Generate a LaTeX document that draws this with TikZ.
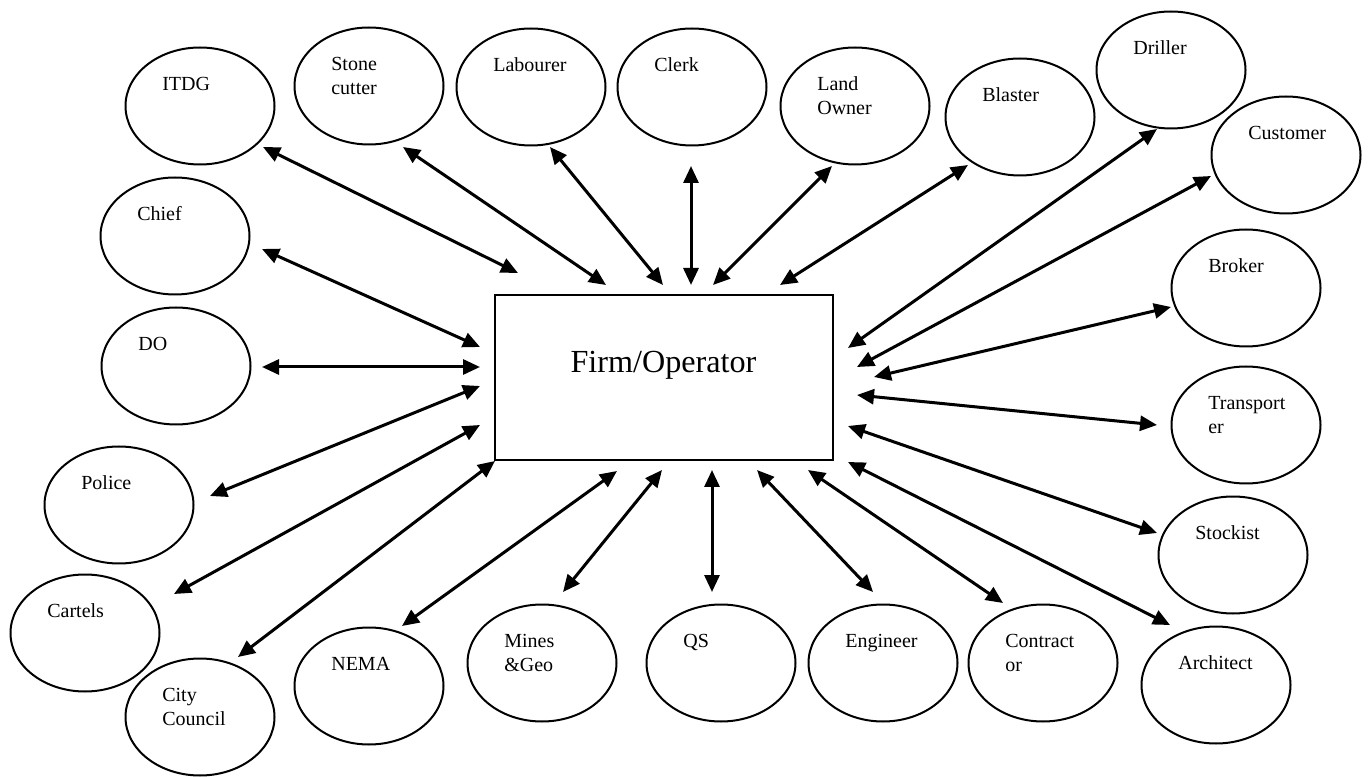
\documentclass[tikz,border=0pt]{standalone}
\usepackage{fontspec}
\setmainfont{Liberation Serif}
\usetikzlibrary{arrows.meta, shapes.geometric}
\tikzset{
	x=0.6pt, y=-0.6pt, % una unidad es un pixel del boceto
	actor/.style={ellipse, draw, line width=1.2pt, minimum width=89.4pt, minimum height=70.2pt, inner sep=0pt}, % Actores
	tag/.style={anchor=north west, align=left, inner sep=0pt, font=\fontsize{12}{14.4}\selectfont, xshift=-22.8pt, yshift=19.68pt}, % Texto dentro de cada actor
	firmbox/.style={rectangle, draw, line width=1pt, minimum width=202.8pt, minimum height=99pt, inner sep=0pt},
	link/.style={line width=1.8pt, {Triangle[length=10.2pt,width=9pt]}-{Triangle[length=10.2pt,width=9pt]}}
}

\begin{document}
\begin{tikzpicture}
	\useasboundingbox (0,0) rectangle (1370,777);
	\node[firmbox] (firm) at (664,377.5) {};
	\node[anchor=base, inner sep=0pt, font=\fontsize{19.3}{23}\selectfont] (firm-t) at (663.5,373) {Firm/Operator};

	\node[actor] (itdg) at (200,106) {};
	\node[actor] (stone) at (369,86) {};
	\node[actor] (labourer) at (531,87) {};
	\node[actor] (clerk) at (692,87) {};
	\node[actor] (land) at (855,106) {};
	\node[actor] (blaster) at (1020,117) {};
	\node[actor] (driller) at (1171,70) {};
	\node[actor] (customer) at (1286,155) {};
	\node[actor] (broker) at (1246,288) {};
	\node[actor] (transporter) at (1246,425) {};
	\node[actor] (stockist) at (1233,555) {};
	\node[actor] (architect) at (1216,685) {};
	\node[actor] (contractor) at (1043,663) {};
	\node[actor] (engineer) at (883,663) {};
	\node[actor] (qs) at (721,663) {};
	\node[actor] (mines) at (542,663) {};
	\node[actor] (nema) at (369,686) {};
	\node[actor] (city) at (200,717) {};
	\node[actor] (cartels) at (85,633) {};
	\node[actor] (police) at (119,505) {};
	\node[actor] (do) at (176,366) {};
	\node[actor] (chief) at (175,236) {};

	\node[tag] (itdg-t) at (itdg) {\strut ITDG};
	\node[tag] (stone-t) at (stone) {\strut Stone\\cutter};
	\node[tag] (labourer-t) at (labourer) {\strut Labourer};
	\node[tag] (clerk-t) at (clerk) {\strut Clerk};
	\node[tag] (land-t) at (land) {\strut Land\\Owner};
	\node[tag] (blaster-t) at (blaster) {\strut Blaster};
	\node[tag] (driller-t) at (driller) {\strut Driller};
	\node[tag] (customer-t) at (customer) {\strut Customer};
	\node[tag] (broker-t) at (broker) {\strut Broker};
	\node[tag] (transporter-t) at (transporter) {\strut Transport\\er};
	\node[tag] (stockist-t) at (stockist) {\strut Stockist};
	\node[tag] (architect-t) at (architect) {\strut Architect};
	\node[tag] (contractor-t) at (contractor) {\strut Contract\\or};
	\node[tag] (engineer-t) at (engineer) {\strut Engineer};
	\node[tag] (qs-t) at (qs) {\strut QS};
	\node[tag] (mines-t) at (mines) {\strut Mines\\\&Geo};
	\node[tag] (nema-t) at (nema) {\strut NEMA};
	\node[tag] (city-t) at (city) {\strut City\\Council};
	\node[tag] (cartels-t) at (cartels) {\strut Cartels};
	\node[tag] (police-t) at (police) {\strut Police};
	\node[tag] (do-t) at (do) {\strut DO};
	\node[tag] (chief-t) at (chief) {\strut Chief};

	% extremo junto al actor / extremo junto a la firma
	\foreach \n/\ox/\oy/\ix/\iy in {itdg/263/147/518/273, stone/403/147/606/285,
		labourer/550/147/663/285, clerk/691/166/691/285, land/832/166/713/285,
		blaster/968/165/780/285, driller/1157/129/848/348, customer/1211/176/857/367,
		broker/1171/307/874/377, transporter/1157/425/857/395, stockist/1157/533/848/426,
		architect/1170/625/848/462, contractor/1003/603/808/470, engineer/873/592/757/470,
		qs/712/592/712/470, mines/563/592/662/470, nema/402/626/617/471,
		city/238/657/495/461, cartels/174/594/480/425, police/210/496/480/386,
		do/262/367/480/367, chief/262/249/480/347}{
		\coordinate (\n-out) at (\ox,\oy);
		\coordinate (\n-in) at (\ix,\iy);
		\draw[link] (\n-out) -- (\n-in);
	}
\end{tikzpicture}
\end{document}
